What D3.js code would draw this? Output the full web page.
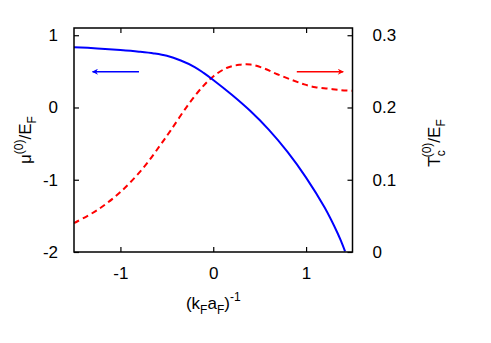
<!DOCTYPE html>
<html>
<head>
<meta charset="utf-8">
<script src="https://cdn.jsdelivr.net/npm/d3@7"></script>
<style>
  body { margin: 0; background: #fff; }
  svg text { font-family: "Liberation Sans", Arial, sans-serif; }
</style>
</head>
<body>
<svg id="chart" width="491" height="343"></svg>
<script>
// inverse coupling 1/(kF aF)
var muX   = [-1.5, -1.25, -1.0, -0.8, -0.64, -0.5, -0.35, -0.2, -0.1, 0.0, 0.2, 0.4, 0.6, 0.8, 1.0, 1.2, 1.336, 1.38, 1.42];
var muVal = [0.835, 0.818, 0.795, 0.772, 0.748, 0.715, 0.65, 0.56, 0.475, 0.38, 0.175, -0.05, -0.31, -0.615, -0.97, -1.385, -1.73, -1.86, -1.99];

var tcX   = [-1.5, -1.25, -1.0, -0.75, -0.57, -0.46, -0.28, -0.12, 0.0, 0.15, 0.28, 0.40, 0.55, 0.69, 0.85, 0.98, 1.1, 1.24, 1.38, 1.5];
var tcVal = [0.040, 0.058, 0.083, 0.117, 0.148, 0.168, 0.202, 0.228, 0.243, 0.255, 0.259, 0.2595, 0.254, 0.246, 0.238, 0.232, 0.228, 0.226, 0.224, 0.223];

var xTicks = [-1, 0, 1];
var muTicks = [-2, -1, 0, 1];
var tcTicks = [0, 0.1, 0.2, 0.3];

// arrows pointing to each curve's axis: [x0, x1] at the given mu level
var blueArrow = { from: -0.8, to: -1.3, mu: 0.495 };
var redArrow  = { from: 0.9,  to: 1.4,  mu: 0.495 };

var svg = d3.select("#chart");
var pLeft = 74, pRight = 352.5, pTop = 28, pBottom = 252;

var x = d3.scaleLinear().domain([-1.5, 1.5]).range([pLeft, pRight]);
var yMu = d3.scaleLinear().domain([-2, 1.1]).range([pBottom, pTop]);
var yTc = d3.scaleLinear().domain([0, 0.31]).range([pBottom, pTop]);

var defs = svg.append("defs");
[["blueHead", "blue"], ["redHead", "red"]].forEach(function (m) {
    defs.append("marker")
        .attr("id", m[0])
        .attr("viewBox", "0 0 10 10")
        .attr("refX", 9).attr("refY", 5)
        .attr("markerWidth", 10).attr("markerHeight", 6)
        .attr("markerUnits", "userSpaceOnUse")
        .attr("orient", "auto")
        .append("path")
        .attr("d", "M0,0 L10,5 L0,10 L3,5 Z")
        .attr("fill", m[1]);
});

var clip = defs.append("clipPath").attr("id", "plotClip");
clip.append("rect").attr("x", pLeft).attr("y", pTop).attr("width", pRight - pLeft).attr("height", pBottom - pTop);

// curves
var muLine = d3.line()
    .x(function (d, i) { return x(muX[i]); })
    .y(function (d) { return yMu(d); })
    .curve(d3.curveCatmullRom.alpha(0.5));
var tcLine = d3.line()
    .x(function (d, i) { return x(tcX[i]); })
    .y(function (d) { return yTc(d); })
    .curve(d3.curveCatmullRom.alpha(0.5));

var plot = svg.append("g").attr("clip-path", "url(#plotClip)");
plot.append("path")
    .attr("d", tcLine(tcVal))
    .attr("fill", "none")
    .attr("stroke", "red")
    .attr("stroke-width", 2)
    .attr("stroke-dasharray", "6,4");
plot.append("path")
    .attr("d", muLine(muVal))
    .attr("fill", "none")
    .attr("stroke", "blue")
    .attr("stroke-width", 2);

// arrows
svg.append("line")
    .attr("x1", x(blueArrow.from)).attr("x2", x(blueArrow.to))
    .attr("y1", yMu(blueArrow.mu)).attr("y2", yMu(blueArrow.mu))
    .attr("stroke", "blue").attr("stroke-width", 1.5)
    .attr("marker-end", "url(#blueHead)");
svg.append("line")
    .attr("x1", x(redArrow.from)).attr("x2", x(redArrow.to))
    .attr("y1", yMu(redArrow.mu)).attr("y2", yMu(redArrow.mu))
    .attr("stroke", "red").attr("stroke-width", 1.5)
    .attr("marker-end", "url(#redHead)");

// frame
svg.append("rect")
    .attr("x", pLeft).attr("y", pTop)
    .attr("width", pRight - pLeft).attr("height", pBottom - pTop)
    .attr("fill", "none").attr("stroke", "black").attr("stroke-width", 1.5);

// axes with inward ticks (gnuplot style, hyphen minus)
var fs = 17;
var intFmt = function (d) { return String(d); };
svg.append("g").attr("transform", "translate(0," + pBottom + ")")
    .call(d3.axisBottom(x).tickValues(xTicks).tickSize(-5).tickPadding(15).tickFormat(intFmt))
    .call(styleAxis);
svg.append("g").attr("transform", "translate(0," + pTop + ")")
    .call(d3.axisTop(x).tickValues(xTicks).tickSize(-5).tickFormat(""))
    .call(styleAxis);
svg.append("g").attr("transform", "translate(" + pLeft + ",0)")
    .call(d3.axisLeft(yMu).tickValues(muTicks).tickSize(-5).tickPadding(16).tickFormat(intFmt))
    .call(styleAxis);
svg.append("g").attr("transform", "translate(" + pRight + ",0)")
    .call(d3.axisRight(yTc).tickValues(tcTicks).tickSize(-5).tickPadding(20).tickFormat(function (d) { return d === 0 ? "0" : d3.format(".1f")(d); }))
    .call(styleAxis);

function styleAxis(g) {
    g.select(".domain").remove();
    g.attr("font-family", null).attr("font-size", null);
    g.selectAll(".tick line").attr("stroke", "black").attr("stroke-width", 1.2);
    g.selectAll(".tick text").attr("fill", "black").style("font-size", fs + "px");
}

// axis titles
var xt = svg.append("text")
    .attr("x", x(0)).attr("y", 309)
    .attr("text-anchor", "middle")
    .style("font-size", "17px");
xt.append("tspan").text("(k");
xt.append("tspan").attr("dy", 5).style("font-size", "12px").text("F");
xt.append("tspan").attr("dy", -5).text("a");
xt.append("tspan").attr("dy", 5).style("font-size", "12px").text("F");
xt.append("tspan").attr("dy", -5).text(")");
xt.append("tspan").attr("dy", -8).style("font-size", "12px").text("-1");

var yl = svg.append("text")
    .attr("transform", "translate(31,140) rotate(-90)")
    .attr("text-anchor", "middle")
    .style("font-size", "17px");
yl.append("tspan").text("μ");
yl.append("tspan").attr("dy", -8).style("font-size", "12px").text("(0)");
yl.append("tspan").attr("dy", 8).text("/E");
yl.append("tspan").attr("dy", 5).style("font-size", "12px").text("F");

var yr = svg.append("text")
    .attr("transform", "translate(440,143) rotate(-90)")
    .attr("text-anchor", "middle")
    .style("font-size", "17px");
yr.append("tspan").text("T");
yr.append("tspan").attr("dy", 5).style("font-size", "12px").text("c");
yr.append("tspan").attr("dx", -7).attr("dy", -14).style("font-size", "12px").text("(0)");
yr.append("tspan").attr("dy", 9).text("/E");
yr.append("tspan").attr("dy", 5).style("font-size", "12px").text("F");
</script>
</body>
</html>
